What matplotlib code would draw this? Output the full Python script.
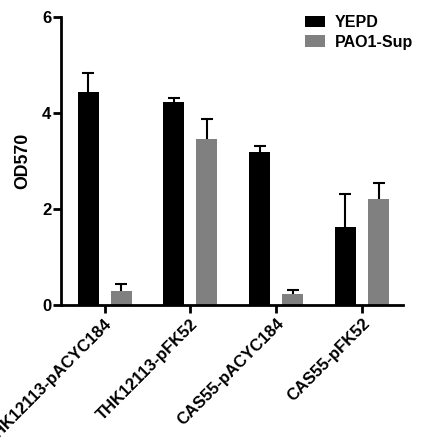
import numpy as np
import matplotlib.pyplot as plt

plt.rcParams['font.family'] = ['Liberation Sans', 'DejaVu Sans']
plt.rcParams['font.weight'] = 'bold'

# dados
cepas = ['THK12113-pACYC184', 'THK12113-pFK52', 'CAS55-pACYC184', 'CAS55-pFK52']
yepd = [4.44, 4.24, 3.19, 1.62]
yepd_err = [0.39, 0.07, 0.13, 0.70]
pao1 = [0.30, 3.46, 0.23, 2.20]
pao1_err = [0.13, 0.41, 0.09, 0.34]

fig = plt.figure(figsize=(4.23, 4.43), dpi=100)
ax = fig.add_axes([0.144, 0.3115, 0.809, 0.650])

x = np.arange(len(cepas))
desloc = 0.193
largura = 0.245
cap = 0.07

ax.bar(x - desloc, yepd, largura, color='black', label='YEPD', zorder=2)
ax.bar(x + desloc, pao1, largura, color='#808080', label='PAO1-Sup', zorder=2)

# barras de erro só para cima
for pos, val, err in [(x - desloc, yepd, yepd_err), (x + desloc, pao1, pao1_err)]:
    val = np.array(val)
    err = np.array(err)
    ax.vlines(pos, val, val + err, color='black', linewidth=1.5, zorder=3)
    ax.hlines(val + err, pos - cap, pos + cap, color='black', linewidth=1.5, zorder=3)

ax.set_xlim(-0.51, 3.48)
ax.set_ylim(0, 6)
ax.set_yticks([0, 2, 4, 6])
ax.set_xticks(x)
ax.set_xticklabels(cepas, rotation=45, ha='right', rotation_mode='anchor',
                   fontsize=12, fontweight='bold')
ax.set_ylabel('OD570', fontsize=12.8, fontweight='bold', labelpad=8)

for s in ['top', 'right']:
    ax.spines[s].set_visible(False)
for s in ['left', 'bottom']:
    ax.spines[s].set_linewidth(2)
ax.tick_params(axis='both', width=2, length=6)
ax.tick_params(axis='y', pad=1, labelsize=12)
ax.tick_params(axis='x', pad=2)
for t in ax.get_yticklabels():
    t.set_fontweight('bold')

ax.legend(loc='upper left', bbox_to_anchor=(0.695, 1.03), frameon=False,
          fontsize=11.5, handlelength=1.25, handleheight=0.7,
          handletextpad=0.6, labelspacing=0.3, borderaxespad=0)

plt.savefig('out.png', dpi=100)
